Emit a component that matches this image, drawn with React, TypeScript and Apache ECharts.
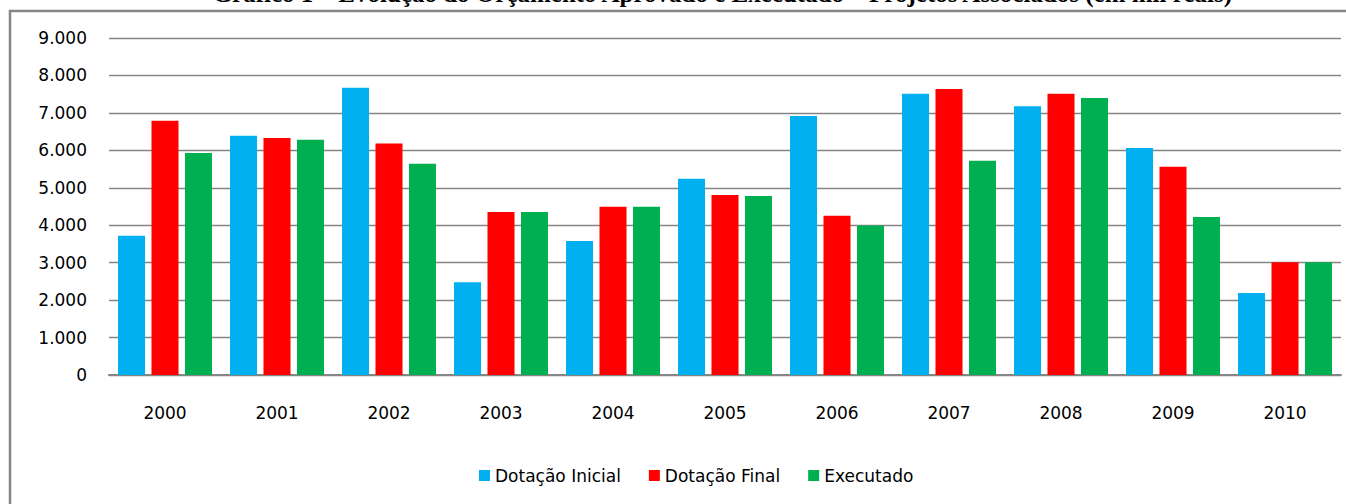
import React, { useEffect, useRef } from "react";
import * as echarts from "echarts";

const categories = ["2000", "2001", "2002", "2003", "2004", "2005", "2006", "2007", "2008", "2009", "2010"];
const dotacaoInicial = [3720, 6390, 7670, 2480, 3580, 5240, 6920, 7510, 7180, 6060, 2190];
const dotacaoFinal = [6790, 6330, 6180, 4350, 4490, 4810, 4250, 7640, 7510, 5560, 3010];
const executado = [5930, 6280, 5640, 4350, 4490, 4780, 3990, 5720, 7400, 4220, 3010];
const seriesNames = ["Dotação Inicial", "Dotação Final", "Executado"];
const titleText = "Gráfico 1 – Evolução do Orçamento Aprovado e Executado – Projetos Associados (em mil reais)";

const FONT = "DejaVu Sans";

export default function App() {
  const ref = useRef<HTMLDivElement>(null);
  useEffect(() => {
    if (!ref.current) return;
    const chart = echarts.init(ref.current, null, { renderer: "svg" });
    const fmt = (v: number) => (v === 0 ? "0" : v.toLocaleString("de-DE"));
    const mk = (name: string, data: number[], color: string) => ({
      name,
      type: "bar",
      data,
      barWidth: 27,
      barGap: "24%",
      itemStyle: { color },
    });
    chart.setOption({
      animation: false,
      backgroundColor: "#ffffff",
      grid: { left: 109, right: 5, top: 38, bottom: 129 },
      xAxis: {
        type: "category",
        data: categories,
        axisLine: { lineStyle: { color: "#868686", width: 2 } },
        axisTick: { show: false },
        axisLabel: { color: "#000", fontFamily: FONT, fontSize: 17, margin: 29 },
      },
      yAxis: {
        type: "value",
        min: 0,
        max: 9000,
        interval: 1000,
        axisLine: { show: false },
        axisTick: { show: false },
        splitLine: { lineStyle: { color: "#868686", width: 1.3 } },
        axisLabel: { color: "#000", fontFamily: FONT, fontSize: 17, margin: 22, formatter: fmt },
      },
      legend: {
        data: seriesNames,
        left: 474,
        top: 462,
        icon: "rect",
        itemWidth: 11,
        itemHeight: 11,
        itemGap: 28,
        textStyle: { color: "#000", fontFamily: FONT, fontSize: 17 },
      },
      graphic: [
        {
          type: "rect",
          shape: { x: 10, y: 11, width: 1400, height: 600 },
          style: { fill: "none", stroke: "#868686", lineWidth: 2.5 },
          silent: true,
        },
        {
          type: "text",
          x: 1232,
          y: 6,
          style: {
            text: titleText,
            fill: "#000",
            font: "bold 25px 'Liberation Serif'",
            align: "right",
            verticalAlign: "bottom",
          },
          silent: true,
        },
      ],
      series: [
        mk(seriesNames[0], dotacaoInicial, "#00B0F0"),
        mk(seriesNames[1], dotacaoFinal, "#FF0000"),
        mk(seriesNames[2], executado, "#00B050"),
      ],
    });
    return () => chart.dispose();
  }, []);
  return (
    <div
      ref={ref}
      style={{ position: "fixed", left: 0, top: 0, width: 1346, height: 504, background: "#fff" }}
    />
  );
}
